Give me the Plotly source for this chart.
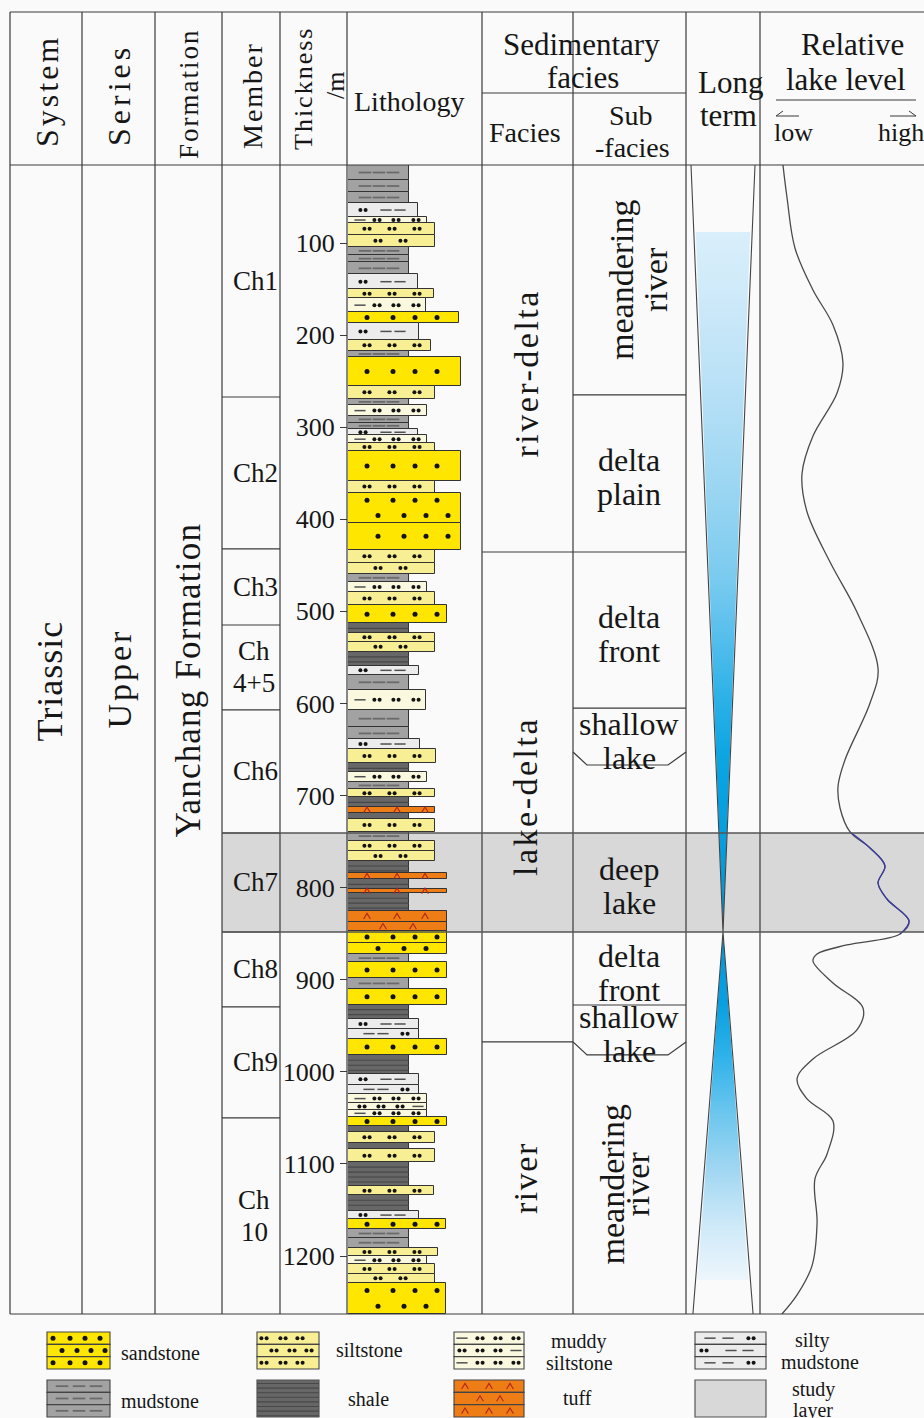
import plotly.graph_objects as go

W, H = 924, 1418
FONT = "Liberation Serif"
INK = "#161616"
RULE = "#3a3a3a"

# ------------------------------------------------------------------ data
depth_top, depth_base = 15.3, 1262.9
depth_ticks = [100, 200, 300, 400, 500, 600, 700, 800, 900, 1000, 1100, 1200]

# lithology column: layer tops (m), lithology code, relative grain-size profile
layer_top = [15.3, 31.6, 44.6, 56.6, 71.8, 78.3, 91, 104, 113, 121, 134, 150, 160, 175, 187,
             205, 217, 224, 255, 269, 276, 288, 295, 302, 309, 317, 326, 358, 371, 404, 433,
             447, 459, 468, 479, 493, 513, 523, 533, 544, 559, 569, 585, 607, 626, 639, 649,
             665, 674, 685, 693, 702, 712, 719, 725, 739, 749, 760, 771, 784, 791, 801, 806,
             825, 837, 847, 860, 872, 881, 898, 910, 927, 943, 953, 964, 982, 1002, 1014,
             1024, 1034, 1041, 1049, 1059, 1065, 1077, 1084, 1098, 1124, 1134, 1151, 1160,
             1171, 1180, 1191, 1200, 1209, 1219, 1229]
layer_base = layer_top[1:] + [depth_base]
layer_lith = ["md", "md", "md", "sm", "ms", "st", "st", "md", "md", "md", "sm", "st", "ms", "ss", "sm",
              "st", "md", "ss", "st", "md", "ms", "md", "md", "sm", "ms", "st", "ss", "st", "ss", "ss", "st",
              "st", "md", "ms", "st", "ss", "sh", "st", "st", "sh", "sm", "md", "ms", "md", "md", "sm", "st",
              "sh", "ms", "md", "st", "sh", "tf", "sh", "st", "md", "st", "st", "sh", "tf", "sh", "tf", "sh",
              "tf", "tf", "ss", "ss", "md", "ss", "md", "ss", "sh", "sm", "sm", "ss", "sh", "sm", "sm",
              "ms", "ms", "ms", "ss", "sh", "st", "sh", "st", "sh", "st", "sh", "sm", "ss",
              "md", "md", "st", "ms", "st", "st", "ss"]
layer_grain = [4.55, 4.55, 4.55, 5.2, 5.9, 6.5, 6.5, 4.55, 4.55, 4.55, 5.2, 6.4, 5.85, 8.3, 5.3,
               6.2, 4.55, 8.4, 6.5, 4.55, 5.9, 4.55, 4.55, 5.2, 5.9, 6.5, 8.4, 6.5, 8.4, 8.4, 6.5,
               6.5, 4.55, 5.9, 6.5, 7.4, 4.55, 6.5, 6.5, 4.55, 5.3, 4.55, 5.85, 4.55, 4.55, 5.4, 6.6,
               4.55, 5.9, 4.55, 6.5, 4.55, 6.5, 4.55, 6.5, 4.55, 6.5, 6.5, 4.55, 7.4, 4.55, 7.4, 4.55,
               7.4, 7.4, 7.4, 7.4, 4.55, 7.4, 4.55, 7.4, 4.55, 5.3, 5.3, 7.4, 4.55, 5.3, 5.3,
               5.9, 5.9, 5.9, 7.4, 4.55, 6.5, 4.55, 6.5, 4.55, 6.4, 4.55, 5.3, 7.3,
               4.55, 4.55, 6.7, 5.9, 6.5, 6.5, 7.3]

member_names = ["Ch1", "Ch2", "Ch3", "Ch<br>4+5", "Ch6", "Ch7", "Ch8", "Ch9", "Ch<br>10"]
member_top = [15.3, 267.2, 432.2, 514.8, 607.0, 740.6, 848.1, 929.5, 1050.0]

facies_names = ["river-delta", "lake-delta", "river"]
facies_top = [15.3, 435.5, 967.5]

subfacies_names = ["meandering<br>river", "delta<br>plain", "delta<br>front", "shallow<br>lake",
                   "deep<br>lake", "delta<br>front", "shallow<br>lake", "meandering<br>river"]
subfacies_top = [15.3, 265.0, 435.5, 605.0, 666.8, 848.1, 927.4, 981.6]

study_top, study_base = 740.6, 848.1

# relative lake level (0 = low, 10 = high) against depth
lake_depth = [15.3, 51.1, 105.4, 151.0, 189.0, 230.3, 262.9, 309.6, 350.8, 392.1, 446.4, 500.7,
              562.5, 599.5, 661.3, 689.6, 713.5, 739.5, 756.9, 776.4, 794.9, 812.3, 836.2, 850.3,
              862.2, 872.0, 879.6, 903.5, 930.6, 954.5, 986.0, 1007.7, 1029.4, 1053.3, 1089.1,
              1116.3, 1164.1, 1210.7, 1242.2, 1262.9]
lake_level = [1.40, 1.65, 2.13, 3.23, 4.45, 5.06, 4.70, 3.23, 2.56, 2.87, 4.27, 5.91,
              7.20, 6.71, 5.18, 4.76, 4.88, 5.49, 6.71, 7.62, 7.20, 7.74, 9.09, 8.54,
              5.30, 3.48, 3.23, 4.45, 6.28, 5.91, 3.23, 2.26, 2.87, 4.45, 4.09,
              3.35, 3.48, 3.17, 2.26, 1.34]

# long-term trend: half-width of the wedge against depth
long_term_depth = [15.3, 848.1, 1262.9]
long_term_width = [1.0, 0.0, 0.94]
long_term_fill = [88.0, 1226.0]

# ------------------------------------------------------------------ styles
LITH_COLOR = {"ss": "#FFE600", "st": "#F8EF94", "ms": "#FAF9E0", "sm": "#ECECEC",
              "md": "#A2A2A2", "sh": "#676767", "tf": "#EE7D16"}
PX_PER_GRAIN = 13.4
PX_PER_M = 0.921

# pattern rows: (kind, offset in px from the left edge)
#   D big dot, P dot pair, m mud dash, d silt dash, C tuff caret
COL_PAT = {
    "ss": [[("D", 19), ("D", 45), ("D", 67), ("D", 89)], [("D", 30), ("D", 56), ("D", 78), ("D", 100)]],
    "st": [[("P", 19), ("P", 44), ("P", 69)], [("P", 30), ("P", 55)]],
    "ms": [[("d", 12), ("P", 29), ("P", 48), ("P", 68)], [("P", 14), ("P", 33), ("P", 52), ("d", 70)]],
    "sm": [[("P", 15), ("d", 38), ("d", 52)], [("d", 21), ("d", 35), ("P", 57)]],
    "md": [[("m", 17), ("m", 31), ("m", 45)], [("m", 17), ("m", 31), ("m", 45)]],
    "tf": [[("C", 19), ("C", 49), ("C", 77)], [("C", 35), ("C", 65)]],
}
LEG_PAT = {
    "ss": [[("D", 6), ("D", 23), ("D", 38), ("D", 53)], [("D", 15), ("D", 30), ("D", 44), ("D", 58)]],
    "st": [[("P", 7), ("P", 26), ("P", 43)], [("P", 17), ("P", 35), ("P", 52)]],
    "ms": [[("d", 8), ("P", 26), ("P", 44), ("P", 62)], [("P", 8), ("P", 26), ("P", 44), ("d", 62)]],
    "sm": [[("d", 15), ("d", 33), ("P", 56)], [("P", 9), ("d", 36), ("d", 53)]],
    "md": [[("m", 15), ("m", 32), ("m", 49)], [("m", 15), ("m", 32), ("m", 49)]],
    "tf": [[("C", 11), ("C", 35), ("C", 56)], [("C", 26), ("C", 46)]],
}

# wedge colour ramps (light -> deep blue and back)
RAMP_UP = [[0, "#D9EFFB"], [0.1, "#CDE9F9"], [0.2, "#BCE2F7"], [0.3, "#A9DBF4"],
           [0.4, "#93D3F1"], [0.5, "#78CAEF"], [0.58, "#55BEEC"], [0.66, "#2FB2E8"],
           [0.75, "#0BA5E2"], [1, "#0096DA"]]
RAMP_DOWN = [[0, "#0096DA"], [0.21, "#0AA0E0"], [0.36, "#30B2EA"], [0.52, "#6CC6EE"],
             [0.68, "#A0D6F2"], [0.84, "#CDE9F8"], [1, "#EDF6FC"]]


class Marks:
    """Collects pattern glyphs for one pair of axes and emits them as traces."""

    def __init__(self, fx, fy):
        self.fx, self.fy = fx, fy
        self.pts = {k: ([], []) for k in ("D", "P", "m", "d")}
        self.car = ([], [])
        self.stripe = ([], [])

    def item(self, kind, x0, off, yc):
        x = x0 + self.fx(off)
        if kind == "P":
            for s in (-2.6, 2.6):
                self.pts["P"][0].append(x + self.fx(s))
                self.pts["P"][1].append(yc)
        elif kind == "C":
            h, w = self.fy(2.8), self.fx(3.4)
            self.car[0].extend([x - w, x, x + w, None])
            self.car[1].extend([yc + h, yc - h, yc + h, None])
        else:
            self.pts[kind][0].append(x)
            self.pts[kind][1].append(yc)

    def line(self, x0, x1, y):
        self.stripe[0].extend([x0, x1, None])
        self.stripe[1].extend([y, y, None])

    def traces(self, xa, ya):
        common = dict(xaxis=xa, yaxis=ya, hoverinfo="skip", showlegend=False)
        return [
            go.Scatter(x=self.stripe[0], y=self.stripe[1], mode="lines",
                       line=dict(color="#474747", width=1.1), **common),
            go.Scatter(x=self.pts["m"][0], y=self.pts["m"][1], mode="markers",
                       marker=dict(symbol="line-ew", size=9, line=dict(color="#6a6a6a", width=1.8)), **common),
            go.Scatter(x=self.pts["d"][0], y=self.pts["d"][1], mode="markers",
                       marker=dict(symbol="line-ew", size=8, line=dict(color="#505050", width=1.5)), **common),
            go.Scatter(x=self.pts["D"][0], y=self.pts["D"][1], mode="markers",
                       marker=dict(symbol="circle", size=5, color="#141414"), **common),
            go.Scatter(x=self.pts["P"][0], y=self.pts["P"][1], mode="markers",
                       marker=dict(symbol="circle", size=4, color="#141414"), **common),
            go.Scatter(x=self.car[0], y=self.car[1], mode="lines",
                       line=dict(color="#B3261A", width=1.1), **common),
        ]


fig = go.Figure()


def ann(text, x, y, size, xref="x", yref="y2", angle=0, ls=None, yshift=0):
    if ls:
        text = f'<span style="letter-spacing:{ls}px">{text}</span>'
    fig.add_annotation(text=text, x=x, y=y, xref=xref, yref=yref, showarrow=False,
                       textangle=angle, yshift=yshift, xanchor="center", yanchor="middle",
                       font=dict(family=FONT, size=size, color=INK))


def rule(x0, y0, x1, y1, yref="y2", width=1.2, color=RULE):
    fig.add_shape(type="line", x0=x0, y0=y0, x1=x1, y1=y1, xref="x", yref=yref,
                  line=dict(color=color, width=width), layer="above")


# ------------------------------------------------------------------ study layer band
fig.add_shape(type="rect", xref="x", yref="y", x0=222, x1=W, y0=study_top, y1=study_base,
              fillcolor="#D8D8D8", line=dict(width=0), layer="below")

# ------------------------------------------------------------------ lithology column
mid = [(t + b) / 2 for t, b in zip(layer_top, layer_base)]
thk = [b - t for t, b in zip(layer_top, layer_base)]
fig.add_trace(go.Bar(orientation="h", y=mid, x=layer_grain, width=thk, base=0,
                     xaxis="x4", yaxis="y", hoverinfo="skip", showlegend=False,
                     marker=dict(color=[LITH_COLOR[k] for k in layer_lith],
                                 line=dict(color="#333333", width=1))))

col_marks = Marks(fx=lambda p: p / PX_PER_GRAIN, fy=lambda p: p / PX_PER_M)
prev, prev_par = None, 1
for top, base, lith, g in zip(layer_top, layer_base, layer_lith, layer_grain):
    t = base - top
    if lith == "sh":
        y = top + 5.4
        while y < base - 2:
            col_marks.line(0, g, y)
            y += 5.4
        prev, prev_par = lith, 0
        continue
    par0 = 1 - prev_par if lith == prev else 0
    rows = max(1, int(t // 16.3))
    width_px = g * PX_PER_GRAIN
    for r in range(rows):
        yc = top + (r + 0.5) * t / rows
        for kind, off in COL_PAT[lith][(par0 + r) % 2]:
            if off > width_px - 5:
                continue
            col_marks.item(kind, 0, off, yc)
    prev, prev_par = lith, par0
for tr in col_marks.traces("x4", "y"):
    fig.add_trace(tr)

# ------------------------------------------------------------------ long-term wedge
def lt_half(d):
    if d <= long_term_depth[1]:
        f = (long_term_depth[1] - d) / (long_term_depth[1] - long_term_depth[0])
        return f * long_term_width[0]
    f = (d - long_term_depth[1]) / (long_term_depth[2] - long_term_depth[1])
    return f * long_term_width[2]


wu = lt_half(long_term_fill[0]) * 0.93
fig.add_trace(go.Scatter(
    x=[-wu, wu, 0, -wu], y=[long_term_fill[0], long_term_fill[0], long_term_depth[1], long_term_fill[0]],
    mode="lines", fill="toself", line=dict(width=0), xaxis="x3", yaxis="y", hoverinfo="skip",
    fillgradient=dict(type="vertical", start=long_term_fill[0], stop=long_term_depth[1],
                      colorscale=RAMP_UP)))
wl = lt_half(long_term_fill[1]) * 0.93
fig.add_trace(go.Scatter(
    x=[0, wl, -wl, 0], y=[long_term_depth[1], long_term_fill[1], long_term_fill[1], long_term_depth[1]],
    mode="lines", fill="toself", line=dict(width=0), xaxis="x3", yaxis="y", hoverinfo="skip",
    fillgradient=dict(type="vertical", start=long_term_depth[1], stop=long_term_fill[1],
                      colorscale=RAMP_DOWN)))
fig.add_trace(go.Scatter(
    x=[-long_term_width[0], 0, long_term_width[0], None, -long_term_width[2], 0, long_term_width[2]],
    y=[long_term_depth[0], long_term_depth[1], long_term_depth[0], None,
       long_term_depth[2], long_term_depth[1], long_term_depth[2]],
    mode="lines", line=dict(color="#444444", width=1.1), xaxis="x3", yaxis="y", hoverinfo="skip"))

# ------------------------------------------------------------------ relative lake level curve
fig.add_trace(go.Scatter(x=lake_level, y=lake_depth, mode="lines", xaxis="x2", yaxis="y",
                         line=dict(shape="spline", color="#4a4a4a", width=1.3), hoverinfo="skip"))
in_band = [i for i, d in enumerate(lake_depth) if study_top - 2 <= d <= study_base + 3]
fig.add_trace(go.Scatter(x=[lake_level[i] for i in in_band], y=[lake_depth[i] for i in in_band],
                         mode="lines", xaxis="x2", yaxis="y", hoverinfo="skip",
                         line=dict(shape="spline", color="#3C3CA6", width=1.3)))

# ------------------------------------------------------------------ table frame
COLS = [10, 82, 155, 222, 280, 347, 482, 573, 686, 760]
for cx in COLS:
    rule(cx, 12, cx, 1314)
for ry in (12, 165, 1314):
    rule(10, ry, W, ry)
rule(482, 93, 686, 93)
rule(776, 100, 916, 100, width=1)
fig.add_shape(type="path", path="M 776 116 L 799 116 M 776 116 L 783 111",
              xref="x", yref="y2", line=dict(color=RULE, width=1), layer="above")
fig.add_shape(type="path", path="M 890 116 L 916 116 M 916 116 L 909 111",
              xref="x", yref="y2", line=dict(color=RULE, width=1), layer="above")

# boundaries inside the body (depth scale)
for d in member_top[1:]:
    rule(222, d, 280, d, yref="y")
for d in facies_top[1:]:
    rule(482, d, 573, d, yref="y")
for i, d in enumerate(subfacies_top[1:], start=1):
    if subfacies_names[i - 1] == "shallow<br>lake":
        sh = d - 13 / PX_PER_M
        fig.add_shape(type="path", xref="x", yref="y", layer="above",
                      path=f"M 573 {sh} L 587 {d} L 668 {d} L 686 {sh}",
                      line=dict(color=RULE, width=1.2))
    elif subfacies_names[i] != "deep<br>lake" and d not in (study_top, study_base):
        rule(573, d, 686, d, yref="y")
for d in (study_top, study_base):
    rule(222, d, W, d, yref="y", color="#555555", width=1.4)

# ------------------------------------------------------------------ header text
ann("System", 47, 91, 32, angle=-90, ls=3)
ann("Series", 119, 95, 32, angle=-90, ls=4)
ann("Formation", 189, 94, 27, angle=-90, ls=2)
ann("Member", 252, 96, 28, angle=-90, ls=2)
ann("Thickness", 303, 89, 26, angle=-90, ls=2)
ann("/m", 335, 86, 26, angle=-90)
ann("Lithology", 409, 101, 28)
ann("Sedimentary", 581, 44, 31)
ann("facies", 583, 77, 31)
ann("Facies", 525, 132, 28)
ann("Sub", 631, 115, 28)
ann("-facies", 632, 147, 28)
ann("Long", 730, 82, 31)
ann("term", 728, 115, 31)
ann("Relative", 852, 44, 31)
ann("lake level", 846, 79, 31)
ann("low", 793, 132, 26)
ann("high", 901, 132, 26)

# ------------------------------------------------------------------ body labels
body_mid = 576.0
ann("Triassic", 50, body_mid, 36, yref="y", angle=-90, ls=1)
ann("Upper", 120, body_mid - 3, 34, yref="y", angle=-90, ls=3)
ann("Yanchang Formation", 188, body_mid - 1, 35, yref="y", angle=-90, ls=1.2)

member_base = member_top[1:] + [depth_base]
for name, t, b in zip(member_names, member_top, member_base):
    c = (t + b) / 2
    if "<br>" in name:
        a, bb = name.split("<br>")
        ann(a, 254, c, 27, yref="y", yshift=16)
        ann(bb, 254, c, 27, yref="y", yshift=-16)
    else:
        ann(name, 255, c, 27, yref="y")

facies_base = facies_top[1:] + [depth_base]
facies_shift = [-15, 0, 0]
facies_ls = [2.5, 2.5, 1.5]
for name, t, b, s, ls in zip(facies_names, facies_top, facies_base, facies_shift, facies_ls):
    ann(name, 526, (t + b) / 2, 34, yref="y", angle=-90, ls=ls, yshift=s)

subfacies_base = subfacies_top[1:] + [depth_base]
rot_x = {0: (622, 656), 7: (612, 637)}
for i, (name, t, b) in enumerate(zip(subfacies_names, subfacies_top, subfacies_base)):
    a, bb = name.split("<br>")
    if name == "deep<br>lake":
        c = (study_top + study_base) / 2
    else:
        c = (t + b) / 2
    if i in rot_x:
        ann(a, rot_x[i][0], c, 34, yref="y", angle=-90)
        ann(bb, rot_x[i][1], c, 34, yref="y", angle=-90)
    else:
        ann(a, 629, c, 32, yref="y", yshift=13)
        ann(bb, 629, c, 32, yref="y", yshift=-21)

# ------------------------------------------------------------------ key
leg_marks = Marks(fx=lambda p: p, fy=lambda p: p)
KEY = [("ss", 47, 110, 1332, 1369), ("st", 257, 319, 1332, 1369),
       ("ms", 454, 524, 1332, 1369), ("sm", 695, 766, 1332, 1369),
       ("md", 47, 110, 1380, 1417), ("sh", 257, 319, 1380, 1417),
       ("tf", 454, 524, 1380, 1417), ("study", 695, 766, 1380, 1417)]
for lith, x0, x1, y0, y1 in KEY:
    if lith in ("sh", "study"):
        fill = LITH_COLOR["sh"] if lith == "sh" else "#D8D8D8"
        fig.add_shape(type="rect", xref="x", yref="y2", x0=x0, x1=x1, y0=y0, y1=y1,
                      fillcolor=fill, line=dict(color="#555555", width=1.2), layer="below")
        if lith == "sh":
            y = y0 + 3.5
            while y < y1 - 1:
                leg_marks.line(x0, x1, y)
                y += 4.6
        continue
    rh = (y1 - y0) / 3
    for r in range(3):
        ry0 = y0 + r * rh
        fig.add_shape(type="rect", xref="x", yref="y2", x0=x0, x1=x1, y0=ry0, y1=ry0 + rh,
                      fillcolor=LITH_COLOR[lith], line=dict(color="#444444", width=1.1), layer="below")
        for kind, off in LEG_PAT[lith][r % 2]:
            leg_marks.item(kind, x0, off, ry0 + rh / 2)
for tr in leg_marks.traces("x", "y2"):
    fig.add_trace(tr)

ann("sandstone", 160, 1353, 20)
ann("siltstone", 369, 1350, 20)
ann("muddy", 579, 1341, 20)
ann("siltstone", 579, 1363, 20)
ann("silty", 812, 1340, 20)
ann("mudstone", 820, 1362, 20)
ann("mudstone", 160, 1401, 20)
ann("shale", 368, 1399, 20)
ann("tuff", 577, 1398, 20)
ann("study", 813, 1389, 20)
ann("layer", 813, 1410, 20)

# ------------------------------------------------------------------ axes & layout
hidden = dict(visible=False, fixedrange=True, showgrid=False, zeroline=False)
fig.update_layout(
    width=W, height=H, margin=dict(l=0, r=0, t=0, b=0), autosize=False,
    paper_bgcolor="#FAFAFA", plot_bgcolor="rgba(0,0,0,0)",
    showlegend=False, barmode="overlay", bargap=0,
    xaxis=dict(domain=[0, 1], range=[0, W], anchor="y2", **hidden),
    yaxis=dict(domain=[1 - 1314 / H, 1 - 165 / H], range=[depth_base, depth_top],
               anchor="free", position=347 / W, side="left", tickmode="array",
               tickvals=depth_ticks, ticks="outside", ticklen=7, tickwidth=1.2, tickcolor=RULE,
               tickfont=dict(family=FONT, size=26, color=INK), showgrid=False, zeroline=False,
               showline=False, fixedrange=True, ticklabelstandoff=0),
    yaxis2=dict(domain=[0, 1], range=[H, 0], anchor="x", **hidden),
    xaxis2=dict(domain=[760 / W, 1], range=[0, 10], anchor="y", **hidden),
    xaxis3=dict(domain=[686 / W, 760 / W], range=[-37 / 32, 37 / 32], anchor="y", **hidden),
    xaxis4=dict(domain=[348 / W, 482 / W], range=[0, 134 / PX_PER_GRAIN], anchor="y", **hidden),
)

fig.write_html("out.html")
